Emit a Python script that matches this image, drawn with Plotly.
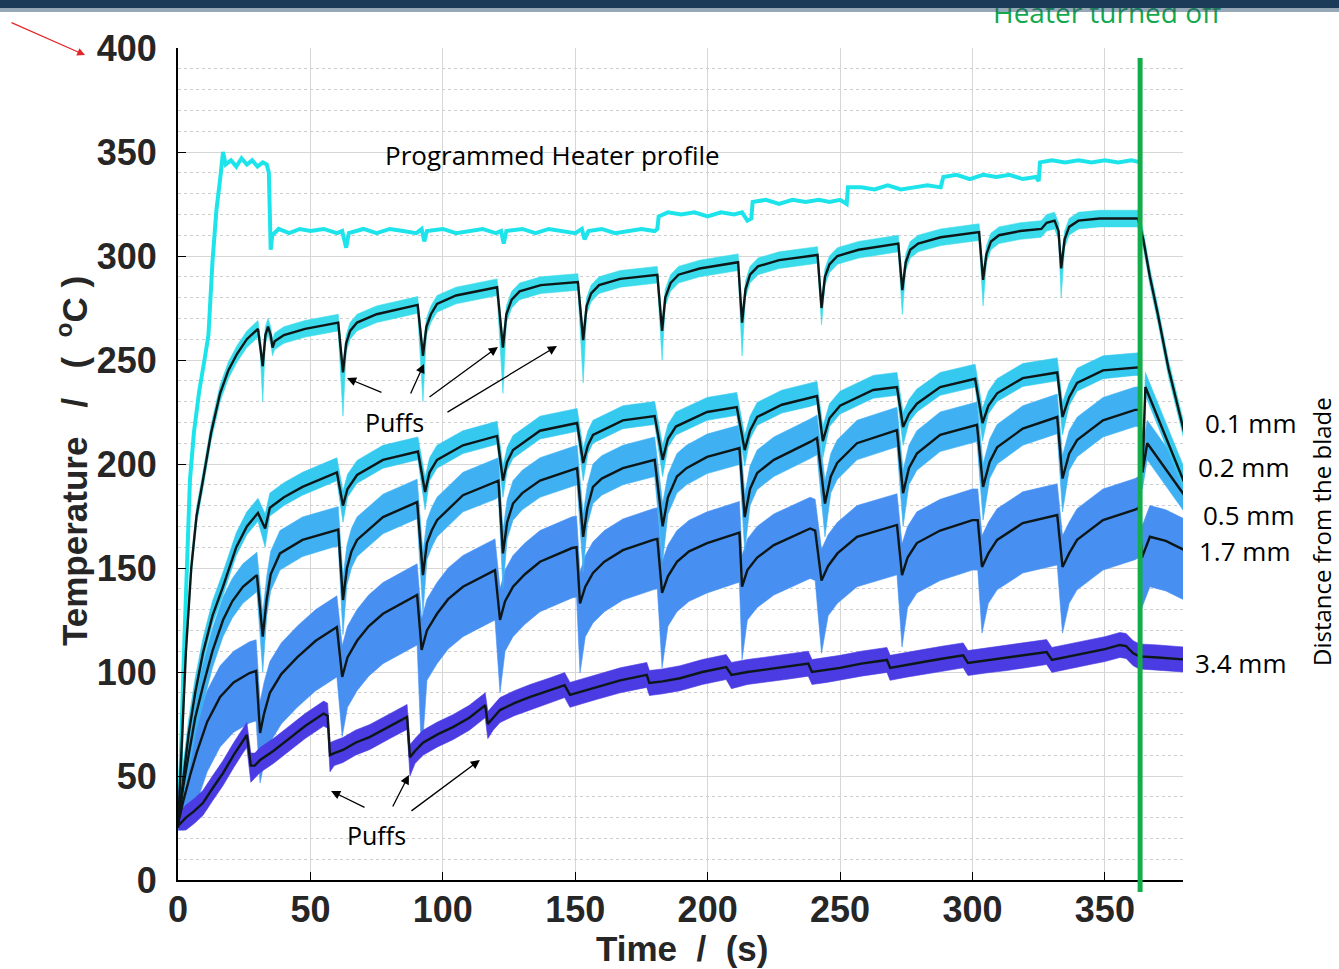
import plotly.graph_objects as go

# ---------------- data ----------------
heater_t = [0, 1, 2, 3, 4.5, 6, 8, 10, 11.5, 13, 14.5, 16, 17, 18, 20, 22, 24, 26, 28, 30, 32, 33.5, 34.3, 35, 35.6,
            38, 42, 46, 50, 55, 60, 62, 63.5, 64.5, 70, 75, 80, 85, 90, 92, 93, 94, 100, 105, 110, 115, 120, 122, 123,
            124, 130, 135, 140, 145, 150, 152.5, 153.5, 155, 160, 165, 170, 175, 180, 181, 181.5, 185, 190, 195, 200,
            205, 210, 213, 215, 216.5, 217, 222, 227, 232, 237, 242, 246, 250, 252.5, 253, 258, 263, 268, 273, 278,
            283, 288, 289, 294, 299, 304, 309, 314, 319, 324, 325, 325.5, 330, 335, 340, 345, 350, 355, 360, 363.5]
heater_T = [25, 55, 100, 140, 192, 215, 235, 250, 262, 297, 322, 338, 350, 344, 346, 343, 347, 344, 346, 343, 345, 344,
            340, 303, 310, 313, 311, 313, 312, 313, 311, 312, 304, 311, 313, 311, 313, 312, 311, 313, 307, 312, 313,
            311, 312, 313, 311, 312, 306, 312, 313, 311, 313, 312, 311, 313, 308, 312, 313, 311, 312, 313, 312, 313,
            319, 321, 320, 321, 319, 321, 320, 321, 317, 318, 326, 327, 325, 327, 326, 327, 326, 327, 325, 333, 333,
            332, 334, 332, 333, 334, 333, 338, 339, 337, 339, 338, 339, 337, 338, 336, 345, 346, 345, 346, 345, 346,
            345, 346, 345]

# 0.1 mm from the blade
s01_t = [0, 1.5, 3, 5, 7, 9.4, 12.5, 15.9, 19, 22.3, 26, 30.2, 31, 32, 33, 34, 35, 35.7, 36.5, 40, 48, 60.5,
         62.3, 63.5, 65, 67.6, 75, 90.5, 92.5, 93.8, 95.5, 97.8, 105, 120.5, 122.7, 124, 126, 129, 137, 151,
         153, 154.3, 156, 159, 167, 181, 182.8, 184, 186, 189, 197, 211.5, 213, 214.3, 216, 219, 227, 241.5,
         243, 244.3, 246, 249, 257, 272, 273.5, 274.8, 276.5, 279.5, 288, 302.5, 304, 305.3, 307, 310, 318, 326,
         328, 331, 332.5, 333.5, 334.8, 336.5, 340, 348, 362.5, 363.5, 364.5, 367, 370, 374, 380]
s01_T = [25, 70, 110, 150, 175, 192, 215, 234, 245, 253, 260, 265, 258, 247, 262, 266, 262, 256, 259, 262, 265, 268,
         244, 258, 264, 268, 272, 276.5, 252, 266, 272, 277, 281, 285, 256, 272, 279, 283, 286, 287.5,
         259.6, 276, 282, 286, 289, 291, 264, 280, 287, 291, 294, 297, 268, 284, 291, 295, 298, 300.5,
         275, 290, 296, 300, 303, 306, 283.6, 297, 303, 306, 309, 311.5, 288.5, 301, 307, 310, 312, 313,
         316, 317, 312, 294, 308, 314, 317, 318, 318, 313, 308, 290, 272, 246, 215]

# 0.2 mm
s02_t = [0, 2, 4, 6.5, 9.4, 13, 17, 22, 26, 30.2, 32.9, 34.7, 40, 47, 60, 62.3, 64, 67.6, 77.4, 90.6, 93.3, 95, 97.8,
         107.6, 120.5, 122.7, 124.3, 126.5, 136.7, 150.7, 153, 154.8, 156.7, 168, 180, 183, 185, 188, 199.8, 211,
         214, 216, 218.7, 228, 238.7, 241.3, 243.5, 246, 250, 262.5, 271.5, 273.8, 276, 279, 287.8, 301, 303.8,
         306, 309.3, 319, 332, 334, 336.5, 339.5, 349.3, 361.4, 363, 364.2, 365.3, 380]
s02_T = [27, 50, 70, 90, 109, 127, 141, 160, 170, 176.5, 169, 179, 184, 189, 196, 180, 188, 194.7, 202, 206, 186.5, 196,
         202, 209, 213.5, 192, 201, 206.7, 216, 219.7, 200.5, 209, 214, 221, 223, 202, 212, 218, 225, 227.4,
         206.7, 216, 222.6, 228.5, 231.7, 232.7, 211, 222, 228, 235.6, 237, 217.8, 224, 229, 237, 241, 219.7,
         228, 234, 241.3, 244, 222.6, 232, 239, 245, 246.6, 246.5, 196, 237, 191]

# 0.5 mm
s05_t = [0, 2, 4, 6.5, 9.4, 13, 17, 20.5, 24.5, 29.8, 32, 33.5, 35, 38.5, 47, 58.5, 60.5, 62.3, 63.8, 65.5, 67.6, 77.4,
         90.3, 92.5, 94, 95.8, 97.8, 107.6, 119.7, 121, 122.7, 124.3, 126.5, 130, 136.7, 150.7, 153, 154.6, 156.7,
         160, 168, 180, 183, 185, 188.4, 192, 199.8, 212, 214, 216, 218.7, 225, 238.7, 241.3, 244.3, 246.5, 248.9,
         256.4, 271.5, 273.8, 276, 279, 287.8, 301.7, 304, 306.5, 309.3, 319, 332, 334, 336.5, 339.5, 349.3,
         361.4, 363, 364.2, 366, 380]
s05_T = [27, 45, 60, 78, 93, 110, 125, 134, 141, 146.6, 117, 135, 147, 157, 163.5, 168, 168.5, 134.6, 150, 158, 163.5,
         174.5, 181.7, 146.6, 162, 168, 173, 185, 191, 192, 157, 172, 181, 186, 192, 198, 165, 179, 189,
         193, 198, 202, 170, 184, 194, 198, 203.4, 207.7, 174.5, 188, 195.7, 202, 210.6, 212.5, 181, 194, 200.5,
         210, 216.3, 186, 198, 205, 214, 218.8, 189, 201, 208, 217, 222.6, 193, 205, 211.5, 221,
         226, 226, 196, 210, 185]

# 1.7 mm
s17_t = [0, 2, 4.5, 7, 11, 15.9, 21, 27, 29.5, 31, 32.5, 34.7, 39, 45, 52, 60, 62, 64, 67.6, 72, 77.4, 90.3, 92, 94,
         97.8, 102, 107.6, 119.7, 121.6, 123.5, 126.5, 131, 136.7, 148.8, 150.5, 151.8, 153.8, 156.7, 161, 168,
         179.4, 181, 182.8, 185, 188.4, 193, 199.8, 211, 212, 213, 215, 218.7, 225, 238.7, 240.6, 243, 245.5, 249,
         256.4, 271.5, 273.4, 275.5, 279, 287.8, 300, 302, 303.6, 306, 309.3, 319, 332, 334, 336.5, 339.5, 349.3,
         361.4, 362.8, 364, 367, 373, 380]
s17_T = [27, 38, 50, 61, 76, 88, 95, 99.5, 100.5, 70.7, 80, 90, 99, 107, 115, 121.6, 97.6, 107, 115, 122, 128, 137,
         110.6, 120, 128, 135, 141, 149, 125, 134, 141, 147, 153, 159.6, 160, 133, 141, 147.6, 153, 158.6,
         163.5, 164, 138, 146, 153, 158, 162, 166.8, 167, 141, 149, 155, 161, 169, 168, 144, 151, 157,
         165, 170.7, 146.6, 155, 162, 168, 173, 173, 150.5, 157, 163.5, 171.6, 175.5, 150.5, 157, 163.5, 173,
         178, 179, 155, 165, 163, 158.6]

# 3.4 mm
s34_t = [0, 3, 6, 9.4, 13, 17, 21, 24.5, 26, 27.5, 29, 31, 36, 41, 48, 55, 56.5, 57.4, 59, 62.3, 67, 72.5, 80, 86.5,
         87.6, 89.5, 92.5, 98, 104, 110, 115, 116, 117, 119, 121.6, 127, 133, 140, 146, 148, 152, 158, 167, 177,
         178, 183, 189.6, 198, 207, 209, 215, 221, 230, 238, 239.4, 245, 250, 258, 267.7, 268.9, 275, 281.3, 289,
         296.5, 298.3, 305, 313, 320, 328, 330, 337, 344.4, 350, 355.7, 358, 360.7, 363, 370, 380]
s34_T = [26, 30, 33, 37, 44, 51.4, 60, 67, 69.7, 55, 55, 57.7, 62, 67, 74, 80, 79, 60, 61, 62.5, 66, 68.8, 74, 78.4,
         59, 62, 66, 70, 73.6, 78, 83, 84, 75, 78, 81.7, 85, 88, 91, 93.7, 89, 90.5, 92.8, 96, 98.6,
         94.7, 95.5, 97, 100, 102.4, 98.6, 100, 101, 102.5, 104, 100, 101, 102, 104, 105.8, 102, 103.5, 104.8, 106.5,
         108, 104.3, 105.5, 106.7, 108, 109.6, 105.8, 107.5, 109.6, 111, 113, 112.5, 109, 107.5, 107, 106]

# band half-widths (above / below the mean) and the deepest points of the puff spikes
band_up = {"0.1": 4, "0.2": 7, "0.5": 11, "1.7": 15, "3.4": 6}
band_lo = {"0.1": 4, "0.2": 4, "0.5": 8, "1.7": 24, "3.4": 6}
spikes_01 = [(32, 230), (62.3, 223), (92.5, 230), (122.7, 234), (153, 239), (182.8, 250), (213, 252), (243, 267),
             (273.5, 272), (304, 276), (333.5, 280)]
spikes_02 = [(32.9, 160), (62.3, 172), (93.3, 178), (122.7, 184), (153, 192), (183, 194), (214, 199), (243.5, 203),
             (273.8, 209), (303.8, 211), (334, 214)]
spikes_05 = [(32, 100), (62.3, 118), (92.5, 128), (122.7, 140), (153, 148), (183, 153), (214, 158), (244.3, 165),
             (273.8, 170), (304, 173), (334, 177)]
spikes_17 = [(31, 61), (62, 69), (92, 59), (121.6, 90), (151.8, 99.5), (182.8, 102), (213, 106), (243, 109),
             (273.4, 112), (303.6, 118.7), (334, 118.7)]
spikes_34 = [(27.5, 47), (57.4, 52), (87.6, 50), (117, 68), (148, 83), (178, 89), (209, 92), (239.4, 95),
             (268.9, 97), (298.3, 99), (330, 100)]

heater_off_t = 363.3

upper_puff_heads = [(63.8, 241.3), (92.9, 248.1), (120.8, 256.3), (143.1, 256.7)]
upper_puff_tails = [(77.4, 234.1), (87.6, 233.2), (94.4, 231.7), (101.2, 224.5)]
lower_puff_heads = [(57.8, 42.8), (87.2, 50.5), (114.0, 57.7)]
lower_puff_tails = [(71.0, 34.6), (80.8, 34.6), (87.6, 32.7)]

x_ticks = [0, 50, 100, 150, 200, 250, 300, 350]
y_ticks = [0, 50, 100, 150, 200, 250, 300, 350, 400]
dist_labels = ["0.1 mm", "0.2 mm", "0.5 mm", "1.7 mm", "3.4 mm"]

# ---------------- styling ----------------
C_HEATER = "#1de4ea"
C_BAND = {"0.1": "#3adbea", "0.2": "#36c9ef", "0.5": "#3fb1f3", "1.7": "#4790f1", "3.4": "#4a3be3"}
C_LINE = "#0e1717"
TICK_FONT = dict(family="Liberation Sans, Arial, sans-serif", size=36, color="#262626", weight="bold")
TXT_FONT = "Open Sans, Noto Sans, sans-serif"

fig = go.Figure()


def add_band(t, m, key, spikes):
    up = [v + band_up[key] for v in m]
    lo = [max(v - band_lo[key], 24) for v in m]
    for st, sv in spikes:
        i = min(range(len(t)), key=lambda k: abs(t[k] - st))
        lo[i] = min(lo[i], sv)
    fig.add_trace(go.Scatter(x=list(t) + list(t)[::-1], y=up + lo[::-1], fill="toself",
                             fillcolor=C_BAND[key], line=dict(width=0.6, color=C_BAND[key]),
                             mode="lines", hoverinfo="skip", showlegend=False))


series = [("1.7", s17_t, s17_T, spikes_17), ("0.5", s05_t, s05_T, spikes_05),
          ("0.2", s02_t, s02_T, spikes_02), ("3.4", s34_t, s34_T, spikes_34),
          ("0.1", s01_t, s01_T, spikes_01)]

fig.add_trace(go.Scatter(x=heater_t, y=heater_T, mode="lines", line=dict(color=C_HEATER, width=4),
                         showlegend=False, hoverinfo="skip"))
for key, t, m, sp in series:
    add_band(t, m, key, sp)
for key, t, m, sp in series:
    fig.add_trace(go.Scatter(x=t, y=m, mode="lines", line=dict(color=C_LINE, width=2.4),
                             name=key + " mm", showlegend=False))

fig.update_layout(
    width=1339, height=969,
    margin=dict(l=178, r=156, t=48, b=89),
    paper_bgcolor="white", plot_bgcolor="white",
    showlegend=False,
    xaxis=dict(range=[0, 379.5], tickvals=x_ticks, ticks="inside", ticklen=8, tickcolor="black",
               showline=True, linecolor="black", linewidth=2, showgrid=True, gridcolor="#d6d6d6",
               gridwidth=1, zeroline=False, tickfont=TICK_FONT, ticklabelstandoff=-3),
    yaxis=dict(range=[0, 400], tickvals=y_ticks, ticks="inside", ticklen=8, tickcolor="black",
               showline=True, linecolor="black", linewidth=2, showgrid=True, gridcolor="#d6d6d6",
               gridwidth=1, zeroline=False, tickfont=TICK_FONT, ticklabelstandoff=12,
               minor=dict(dtick=10, showgrid=True, griddash="dot", gridcolor="#cdcdcd", gridwidth=1)),
)


def px_x(px):
    return (px - 178) / 1005.0


def px_y(py):
    return (880 - py) / 832.0


def paper_text(txt, px, py, size, color="black", family=TXT_FONT, angle=0):
    return dict(text=txt, xref="paper", yref="paper", x=px_x(px), y=px_y(py), xanchor="center",
                yanchor="middle", textangle=angle, showarrow=False,
                font=dict(family=family, size=size, color=color))


ann = []
ann.append(paper_text("<b>Temperature&nbsp;&nbsp;&nbsp;/&nbsp;&nbsp;&nbsp;(&nbsp;&nbsp;<sup>o</sup>C&nbsp;)</b>",
                      72, 461, 35, color="#262626", family="Liberation Sans, Arial, sans-serif", angle=-90))
ann.append(paper_text("<b>Time&nbsp;&nbsp;/&nbsp;&nbsp;(s)</b>", 682, 948, 35, color="#262626",
                      family="Liberation Sans, Arial, sans-serif"))
ann.append(dict(text="Programmed Heater profile", x=141.6, y=348.6, xref="x", yref="y", showarrow=False,
                xanchor="center", yanchor="middle", font=dict(family=TXT_FONT, size=26, color="black")))
ann.append(dict(text="Puffs", x=81.6, y=220.2, xref="x", yref="y", showarrow=False,
                xanchor="center", yanchor="middle", font=dict(family=TXT_FONT, size=25, color="black")))
ann.append(dict(text="Puffs", x=75.1, y=21.6, xref="x", yref="y", showarrow=False,
                xanchor="center", yanchor="middle", font=dict(family=TXT_FONT, size=25, color="black")))
for (hx, hy), (tx, ty) in zip(upper_puff_heads + lower_puff_heads, upper_puff_tails + lower_puff_tails):
    ann.append(dict(x=hx, y=hy, ax=tx, ay=ty, xref="x", yref="y", axref="x", ayref="y", text="",
                    showarrow=True, arrowhead=2, arrowsize=1.4, arrowwidth=1.3, arrowcolor="black"))
label_pos = [(1250, 423), (1243, 467), (1248, 515), (1244, 551), (1240, 663)]
for txt, (px, py) in zip(dist_labels, label_pos):
    ann.append(paper_text(txt, px, py, 26))
ann.append(paper_text("Distance from the blade", 1321, 532, 24, angle=-90))
# red pointer arrow top-left
ann.append(dict(x=px_x(85), y=px_y(55), xref="paper", yref="paper", ax=-75, ay=-33, text="",
                showarrow=True, arrowhead=2, arrowsize=1.3, arrowwidth=1.2, arrowcolor="#e3262a"))
# green "Heater turned off", partly hidden under the dark banner
ann.append(paper_text("Heater turned off", 1108, 12, 28, color="#12a84e"))
# dark banner at the top of the slide (drawn after the green text so it covers its top)
ann.append(dict(text="&nbsp;", xref="paper", yref="paper", x=px_x(0), y=px_y(0), xanchor="left",
                yanchor="top", width=1339, height=8, bgcolor="#1b3b58", borderpad=0, borderwidth=0,
                showarrow=False, font=dict(size=4)))
ann.append(dict(text="&nbsp;", xref="paper", yref="paper", x=px_x(0), y=px_y(8), xanchor="left",
                yanchor="top", width=1339, height=4, bgcolor="rgba(45,80,110,0.5)", borderpad=0,
                borderwidth=0, showarrow=False, font=dict(size=3)))
fig.update_layout(annotations=ann)

shapes = [
    dict(type="line", xref="x", yref="paper", x0=heater_off_t, x1=heater_off_t, y0=px_y(892), y1=px_y(58),
         line=dict(color="#13ad4b", width=5), layer="above"),
]
fig.update_layout(shapes=shapes)

fig.write_html("out.html")
